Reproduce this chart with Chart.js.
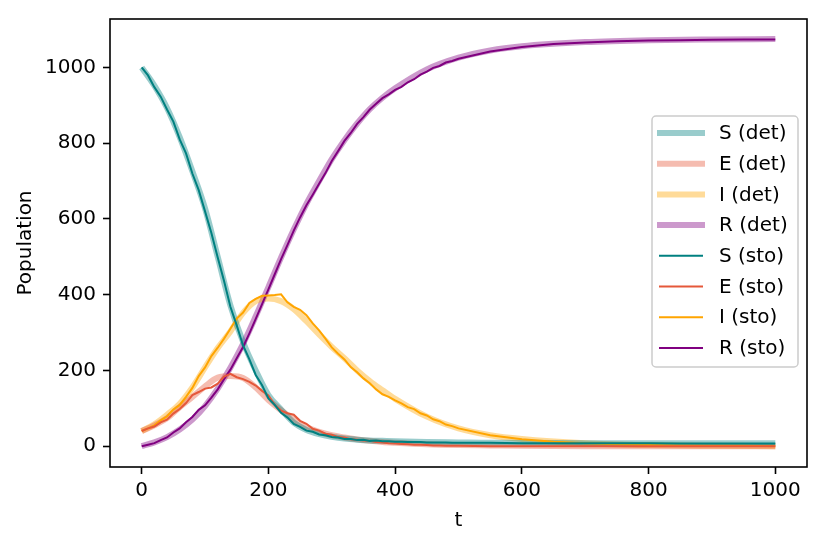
<!DOCTYPE html>
<html>
<head>
<meta charset="utf-8">
<script src="https://cdn.jsdelivr.net/npm/chart.js@4.4.1/dist/chart.umd.min.js"></script>
<style>
html, body { margin: 0; padding: 0; background: #ffffff; }
#wrap { width: 823px; height: 545px; }
</style>
</head>
<body>
<div id="wrap"><canvas id="grafico" width="823" height="545"></canvas></div>
<script>
// tempos do modelo deterministico
const tDet = [0, 20, 40, 60, 80, 100, 120, 140, 160, 180, 200, 220, 240, 260, 280, 300, 320, 340, 360, 380, 400, 450, 500, 550, 600, 700, 800, 900, 1000];
const sDet = [1000, 952, 893, 816, 726, 628, 500, 372, 275, 200, 135, 97, 62, 43, 32, 25, 20, 17, 15, 14, 13, 11, 10, 9, 9, 8, 8, 8, 8];
const eDet = [40, 55, 74, 103, 130, 158, 181, 185, 180, 155, 122, 95, 70, 50, 38, 29, 23, 18, 14, 11, 9, 5, 3, 2, 1, 0, 0, 0, 0];
const iDet = [40, 58, 83, 112, 155, 208, 259, 303, 352, 383, 390, 383, 362, 330, 295, 262, 232, 200, 172, 148, 125, 78, 47, 29, 19, 8, 3, 1, 0];
const rDet = [0, 10, 24, 44, 70, 106, 152, 207, 270, 343, 420, 498, 572, 640, 700, 758, 808, 852, 890, 920, 945, 995, 1026, 1045, 1056, 1067, 1072, 1074, 1075];

// tempos da simulacao estocastica
const tSto = [0, 10, 20, 30, 40, 50, 60, 70, 80, 90,
    100, 110, 120, 130, 140, 150, 160, 170, 180, 190,
    200, 210, 220, 230, 240, 250, 260, 270, 280, 290,
    300, 310, 320, 330, 340, 350, 360, 370, 380, 390,
    400, 410, 420, 430, 440, 450, 460, 470, 480, 490,
    500, 550, 600, 650, 700, 750, 800, 850, 900, 950, 1000];
const sSto = [1000, 979, 948, 923, 889, 857, 810, 773, 720, 676,
    620, 563, 498, 436, 368, 319, 266, 229, 188, 161,
    126, 109, 88, 76, 59, 51, 41, 38, 31, 29,
    24, 23, 19, 19, 16, 17, 14, 15, 13, 13,
    12, 12, 11, 11, 11, 10, 10, 10, 10, 9,
    9, 9, 8, 8, 8, 8, 8, 7, 7, 7, 7];
const eSto = [40, 47, 52, 63, 70, 86, 98, 114, 135, 143,
    152, 155, 165, 184, 191, 182, 177, 170, 160, 146,
    134, 109, 94, 87, 83, 67, 59, 46, 41, 33,
    30, 24, 23, 18, 17, 15, 14, 11, 10, 8,
    7, 6, 5, 4, 4, 3, 2, 2, 1, 1,
    1, 0, 0, 0, 0, 0, 0, 0, 0, 0, 0];
const iSto = [40, 47, 55, 68, 79, 97, 109, 130, 154, 185,
    208, 238, 260, 284, 310, 337, 353, 378, 389, 397,
    398, 399, 401, 380, 368, 360, 346, 324, 306, 284,
    261, 244, 229, 209, 195, 179, 166, 150, 137, 130,
    121, 113, 103, 98, 87, 81, 71, 66, 57, 53,
    47, 29, 18, 12, 8, 5, 3, 2, 1, 1, 0];
const rSto = [0, 4, 8, 16, 23, 36, 47, 63, 77, 96,
    108, 128, 150, 177, 202, 232, 262, 298, 336, 375,
    414, 454, 494, 531, 569, 604, 636, 664, 693, 721,
    753, 779, 806, 827, 851, 869, 889, 904, 919, 929,
    941, 949, 961, 969, 981, 989, 999, 1004, 1013, 1017,
    1023, 1042, 1054, 1062, 1066, 1069, 1071, 1072, 1073, 1074, 1074];

const xTicks = [0, 200, 400, 600, 800, 1000];
const yTicks = [0, 200, 400, 600, 800, 1000];

const fonte = "'DejaVu Sans', sans-serif";

function pares(ts, vs) {
    return ts.map((t, i) => ({ x: t, y: vs[i] }));
}

function serieDet(label, ts, vs, cor) {
    return {
        label: label,
        data: pares(ts, vs),
        borderColor: cor,
        borderWidth: 6,
        pointRadius: 0,
        cubicInterpolationMode: 'monotone',
        fill: false,
        order: 2
    };
}

function serieSto(label, ts, vs, cor) {
    return {
        label: label,
        data: pares(ts, vs),
        borderColor: cor,
        borderWidth: 2,
        pointRadius: 0,
        tension: 0,
        fill: false,
        order: 1
    };
}

// moldura dos eixos
const moldura = {
    id: 'moldura',
    afterDraw(chart) {
        const { left, right, top, bottom } = chart.chartArea;
        const ctx = chart.ctx;
        ctx.save();
        ctx.strokeStyle = '#000000';
        ctx.lineWidth = 1.6;
        ctx.strokeRect(left, top, right - left, bottom - top);
        ctx.restore();
    }
};

// legenda dentro da area do grafico
const legendaInterna = {
    id: 'legendaInterna',
    afterDraw(chart) {
        const ctx = chart.ctx;
        const x0 = 652, y0 = 116, w = 146, h = 251;
        ctx.save();
        ctx.beginPath();
        ctx.roundRect(x0, y0, w, h, 4);
        ctx.fillStyle = 'rgba(255,255,255,0.8)';
        ctx.fill();
        ctx.strokeStyle = '#cccccc';
        ctx.lineWidth = 1.5;
        ctx.stroke();
        ctx.font = '20px ' + fonte;
        ctx.textBaseline = 'middle';
        ctx.textAlign = 'left';
        chart.data.datasets.forEach((d, i) => {
            const y = y0 + 17 + i * 30.7;
            ctx.beginPath();
            ctx.strokeStyle = d.borderColor;
            ctx.lineWidth = d.borderWidth;
            if (d.borderWidth > 3) {
                ctx.moveTo(657, y);
                ctx.lineTo(705, y);
            } else {
                ctx.moveTo(659, y);
                ctx.lineTo(703, y);
            }
            ctx.stroke();
            ctx.fillStyle = '#000000';
            ctx.fillText(d.label, 719, y + 1);
        });
        ctx.restore();
    }
};

const ctx = document.getElementById('grafico').getContext('2d');
new Chart(ctx, {
    type: 'line',
    data: {
        datasets: [
            serieDet('S (det)', tDet, sDet, 'rgba(0,128,128,0.4)'),
            serieDet('E (det)', tDet, eDet, 'rgba(229,88,58,0.4)'),
            serieDet('I (det)', tDet, iDet, 'rgba(255,165,0,0.4)'),
            serieDet('R (det)', tDet, rDet, 'rgba(128,0,128,0.4)'),
            serieSto('S (sto)', tSto, sSto, '#008080'),
            serieSto('E (sto)', tSto, eSto, '#e5583a'),
            serieSto('I (sto)', tSto, iSto, '#ffa500'),
            serieSto('R (sto)', tSto, rSto, '#800080')
        ]
    },
    options: {
        responsive: false,
        animation: false,
        devicePixelRatio: 1,
        layout: { padding: { left: 0, right: 16, top: 15, bottom: 0 } },
        plugins: {
            legend: { display: false },
            tooltip: { enabled: false }
        },
        scales: {
            x: {
                type: 'linear',
                min: -50,
                max: 1050,
                afterFit: scale => { scale.height = 78; },
                afterBuildTicks: scale => { scale.ticks = xTicks.map(v => ({ value: v })); },
                title: {
                    display: true,
                    text: 't',
                    color: '#000000',
                    font: { family: fonte, size: 20 },
                    padding: { top: 0, bottom: 12 }
                },
                ticks: {
                    color: '#000000',
                    font: { family: fonte, size: 20 },
                    padding: 5,
                    maxRotation: 0,
                    autoSkip: false,
                    callback: v => String(v)
                },
                grid: { drawOnChartArea: false, drawTicks: true, tickLength: 7, tickColor: '#000000', tickWidth: 1.6 },
                border: { display: false }
            },
            y: {
                type: 'linear',
                min: -55,
                max: 1128,
                afterFit: scale => { scale.width = 110; },
                afterBuildTicks: scale => { scale.ticks = yTicks.map(v => ({ value: v })); },
                title: {
                    display: true,
                    text: 'Population',
                    color: '#000000',
                    font: { family: fonte, size: 20 },
                    padding: { top: 14, bottom: 0 }
                },
                ticks: {
                    color: '#000000',
                    font: { family: fonte, size: 20 },
                    padding: 7,
                    autoSkip: false,
                    callback: v => String(v)
                },
                grid: { drawOnChartArea: false, drawTicks: true, tickLength: 7, tickColor: '#000000', tickWidth: 1.6 },
                border: { display: false }
            }
        }
    },
    plugins: [moldura, legendaInterna]
});
</script>
</body>
</html>
